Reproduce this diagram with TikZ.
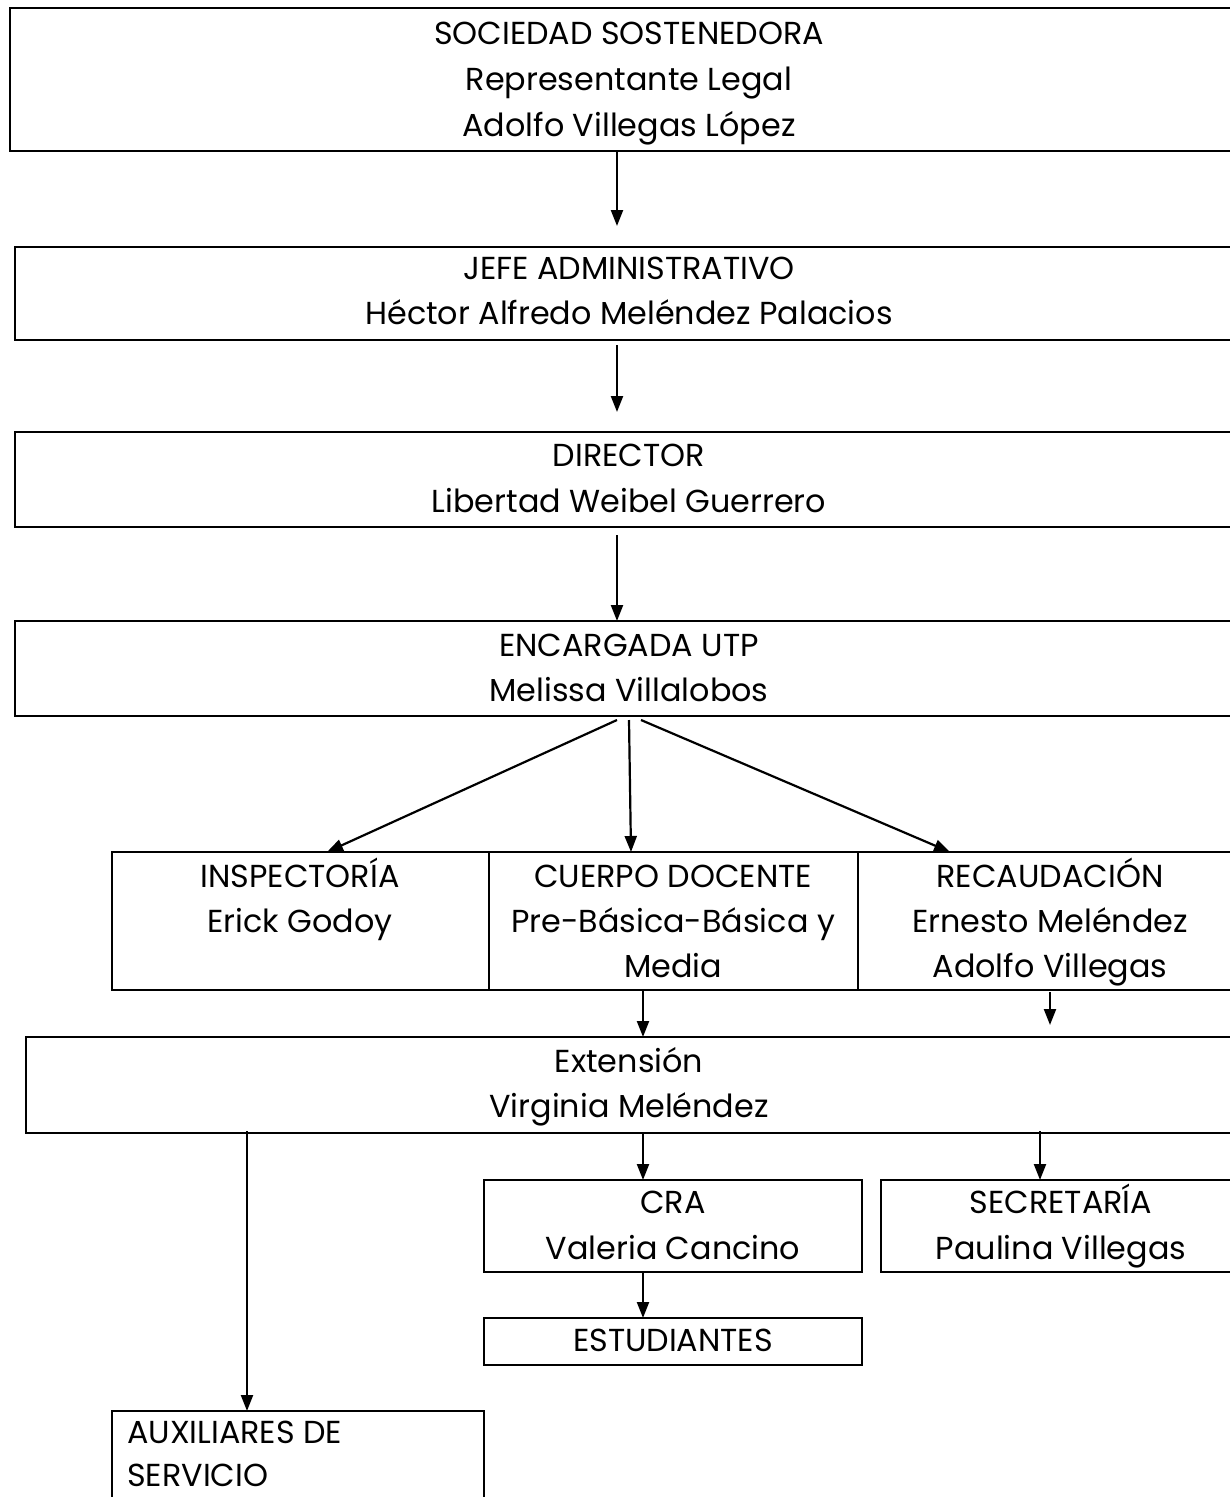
\documentclass[tikz,border=0pt]{standalone}
\usepackage{fontspec}
\setmainfont{Poppins}
\usetikzlibrary{arrows.meta}
\begin{document}
\begin{tikzpicture}[x=1pt,y=-1pt,
  box/.style={draw, line width=2.3pt, rectangle, inner sep=0pt, outer sep=0pt, anchor=north west},
  txt/.style={inner sep=0pt, anchor=base, font=\fontsize{31.8}{38}\selectfont},
  txtl/.style={txt, anchor=base west},
  arr/.style={line width=2.2pt, -{Triangle[length=16pt,width=12pt]}}]
\useasboundingbox (0,0) rectangle (1230,1497);
% boxes
\node[box, minimum width=1238pt, minimum height=143pt] (b1) at (10,8) {};
\node[box, minimum width=1228pt, minimum height=93pt] (b2) at (15,247) {};
\node[box, minimum width=1228pt, minimum height=95pt] (b3) at (15,432) {};
\node[box, minimum width=1228pt, minimum height=95pt] (b4) at (15,621) {};
\node[box, minimum width=377pt, minimum height=138pt] (insp) at (112,852) {};
\node[box, minimum width=369pt, minimum height=138pt] (doc) at (489,852) {};
\node[box, minimum width=384pt, minimum height=138pt] (rec) at (858,852) {};
\node[box, minimum width=1210pt, minimum height=96pt] (ext) at (26,1037) {};
\node[box, minimum width=378pt, minimum height=92pt] (cra) at (484,1180) {};
\node[box, minimum width=360pt, minimum height=92pt] (sec) at (881,1180) {};
\node[box, minimum width=378pt, minimum height=47pt] (est) at (484,1318) {};
\node[box, minimum width=372pt, minimum height=120pt] (aux) at (112,1411) {};
% texts
\node[txt] (t1a) at (629,44) {SOCIEDAD SOSTENEDORA};
\node[txt] (t1b) at (629,90) {Representante Legal};
\node[txt] (t1c) at (629,136) {Adolfo Villegas López};
\node[txt] (t2a) at (629,279) {JEFE ADMINISTRATIVO};
\node[txt] (t2b) at (629,324) {Héctor Alfredo Meléndez Palacios};
\node[txt] (t3a) at (629,466) {DIRECTOR};
\node[txt] (t3b) at (629,512) {Libertad Weibel Guerrero};
\node[txt] (t4a) at (629,656) {ENCARGADA UTP};
\node[txt] (t4b) at (629,701) {Melissa Villalobos};
\node[txt] (tia) at (300,887) {INSPECTORÍA};
\node[txt] (tib) at (300,932) {Erick Godoy};
\node[txt] (tda) at (673,887) {CUERPO DOCENTE};
\node[txt] (tdb) at (673,932) {Pre-Básica-Básica y};
\node[txt] (tdc) at (673,977) {Media};
\node[txt] (tra) at (1050,887) {RECAUDACIÓN};
\node[txt] (trb) at (1050,932) {Ernesto Meléndez};
\node[txt] (trc) at (1050,977) {Adolfo Villegas};
\node[txt] (tea) at (629,1072) {Extensión};
\node[txt] (teb) at (629,1117) {Virginia Meléndez};
\node[txt] (tca) at (673,1213) {CRA};
\node[txt] (tcb) at (673,1259) {Valeria Cancino};
\node[txt] (tsa) at (1061,1213) {SECRETARÍA};
\node[txt] (tsb) at (1061,1259) {Paulina Villegas};
\node[txt] (tsta) at (673,1351) {ESTUDIANTES};
\node[txtl] (taa) at (127,1443) {AUXILIARES DE};
\node[txtl] (tab) at (127,1486) {SERVICIO};
% arrow ends
\coordinate (e1) at (617,226);
\coordinate (s2) at (617,345);
\coordinate (e2) at (617,412);
\coordinate (s3) at (617,535);
\coordinate (s4a) at (617,720);
\coordinate (s4b) at (629,720);
\coordinate (s4c) at (641,720);
\coordinate (e4a) at (327,852);
\coordinate (e4b) at (631,852);
\coordinate (e4c) at (950,852);
\coordinate (e6) at (1050,1025);
\coordinate (s6) at (1050,992);
\coordinate (s7) at (247,1131);
\coordinate (s9) at (1040,1131);
\coordinate (xd) at (643,0);
% connectors
\draw[arr] (b1.south -| e1) -- (e1);
\draw[arr] (s2) -- (e2);
\draw[arr] (s3) -- (b4.north -| s3);
\draw[arr] (s4a) -- (e4a);
\draw[arr] (s4b) -- (e4b);
\draw[arr] (s4c) -- (e4c);
\draw[arr] (doc.south -| xd) -- (ext.north -| xd);
\draw[arr] (s6) -- (e6);
\draw[arr] (s7) -- (aux.north -| s7);
\draw[arr] (ext.south -| xd) -- (cra.north -| xd);
\draw[arr] (s9) -- (sec.north -| s9);
\draw[arr] (cra.south -| xd) -- (est.north -| xd);
\end{tikzpicture}
\end{document}
